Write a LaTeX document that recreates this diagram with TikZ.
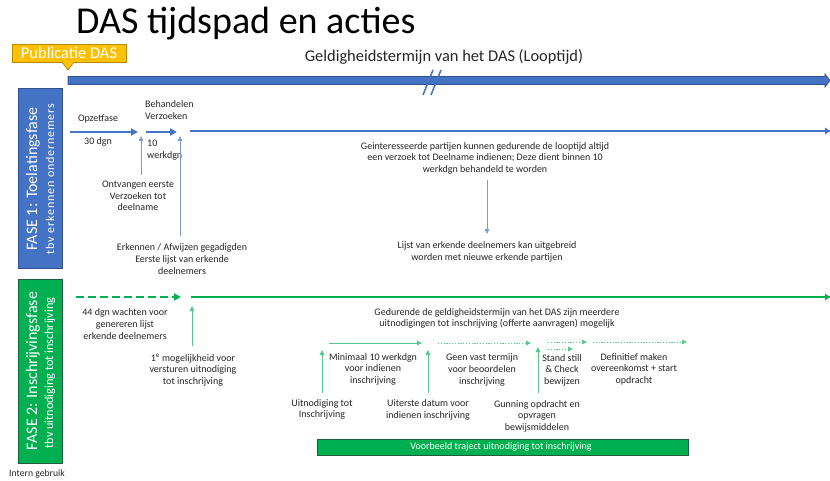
\documentclass[tikz,border=0pt]{standalone}
\usepackage{fontspec}
\setmainfont{Carlito}
\newfontfamily\spacedfont[LetterSpace=7]{Carlito}
\usetikzlibrary{arrows.meta}
\definecolor{dblue}{HTML}{4472C4}
\definecolor{bblue}{HTML}{2F528F}
\definecolor{lblue}{HTML}{7C9BD6}
\definecolor{dgreen}{HTML}{00B050}
\definecolor{bgreen}{HTML}{1E5E3A}
\definecolor{lgreen}{HTML}{55C98A}
\definecolor{gold}{HTML}{FFC000}
\definecolor{goldb}{HTML}{B98B00}
\definecolor{txt}{HTML}{262626}
\tikzset{
  lbl/.style={font=\fontsize{10}{11.6}\selectfont, align=center, inner sep=0pt, text=txt},
  bluemain/.style={draw=dblue, line width=2.4pt, -{Triangle[length=7pt,width=7pt]}},
  bluethin/.style={draw=lblue, line width=0.8pt, -{Triangle[length=5pt,width=4.5pt]}},
  greenthin/.style={draw=lgreen, line width=0.9pt, -{Triangle[length=5pt,width=4.5pt]}},
  greendot/.style={draw=lgreen, line width=0.9pt, dash pattern=on 1.2pt off 1.6pt, -{Triangle[length=5pt,width=4.5pt]}},
  phasebox/.style={line width=1pt},
  phasetitle/.style={rotate=90, text=white, inner sep=0pt, font=\fontsize{16}{17}\selectfont},
}
\begin{document}
\begin{tikzpicture}[x=1pt,y=-1pt]
\useasboundingbox (0,0) rectangle (830,481);
\fill[white] (0,0) rectangle (830,481);

% title
\node[anchor=west, inner sep=0pt, font=\fontsize{38}{40}\selectfont] (title) at (76,24) {DAS tijdspad en acties};

% publicatie callout
\draw[fill=gold, draw=goldb, line width=0.8pt] (12,44) rectangle (126,62);
\draw[fill=gold, draw=goldb, line width=0.8pt] (62,62) -- (68,70) -- (74,62);
\fill[gold] (62.6,61) rectangle (73.4,62.4);
\node[font=\fontsize{16.5}{17}\selectfont, text=white, inner sep=0pt] (pub) at (69,53) {Publicatie DAS};

% geldigheidstermijn
\node[font=\fontsize{16.4}{18}\selectfont, inner sep=0pt, text=txt] (geld) at (444,57) {Geldigheidstermijn van het DAS (Looptijd)};
\draw[fill=dblue, draw=bblue, line width=0.7pt] (68,76.5) -- (825,76.5) -- (825,74) -- (830,80.5) -- (825,87) -- (825,84.5) -- (68,84.5) -- cycle;
\coordinate (s1a) at (423,95); \coordinate (s1b) at (433,70);
\coordinate (s2a) at (431,95); \coordinate (s2b) at (441,70);
\draw[dblue, line width=1.5pt] (s1a) -- (s1b);
\draw[dblue, line width=1.5pt] (s2a) -- (s2b);

% FASE 1 box
\draw[fill=dblue, draw=bblue, phasebox] (18,89) rectangle (62,268);
\node[phasetitle] (f1a) at (33,179) {FASE 1: Toelatingsfase};
\node[rotate=90, text=white, inner sep=0pt, font=\spacedfont\fontsize{12}{13}\selectfont] (f1b) at (50,179) {tbv erkennen ondernemers};

% phase 1 timeline
\coordinate (p1a) at (70,132); \coordinate (p1b) at (138,132);
\coordinate (p1c) at (146,132); \coordinate (p1d) at (177,132);
\coordinate (p1e) at (190,131); \coordinate (p1f) at (830,131);
\draw[bluemain] (p1a) -- (p1b);
\draw[bluemain] (p1c) -- (p1d);
\draw[draw=dblue, line width=2.4pt] (p1e) -- (p1f);
\fill[dblue] (830,131) -- (825,127.5) -- (825,134.5) -- cycle;

\node[lbl] (opzet) at (98,119) {Opzetfase};
\node[lbl] (dgn30) at (98,142) {30 dgn};
\node[lbl, anchor=west, align=left] (behand) at (145,110) {Behandelen\\Verzoeken};
\node[lbl, anchor=west, align=left] (werk10) at (147,150) {10\\werkdgn};

\node[lbl] (ontv) at (138,196) {Ontvangen eerste\\Verzoeken tot\\deelname};
\coordinate (ua1) at (141,175); \coordinate (ua1t) at (141,136);
\draw[bluethin] (ua1) -- (ua1t);

\node[lbl] (erk) at (182,259) {Erkennen / Afwijzen gegadigden\\Eerste lijst van erkende\\deelnemers};
\coordinate (ua2) at (180,236); \coordinate (ua2t) at (180,136);
\draw[bluethin] (ua2) -- (ua2t);

\node[lbl] (gein) at (485,158) {Geinteresseerde partijen kunnen gedurende de looptijd altijd\\een verzoek tot Deelname indienen; Deze dient binnen 10\\werkdgn behandeld te worden};
\node[lbl] (lijst) at (487,252) {Lijst van erkende deelnemers kan uitgebreid\\worden met nieuwe erkende partijen};
\coordinate (da1) at (487,180); \coordinate (da1b) at (487,234);
\draw[bluethin] (da1) -- (da1b);

% FASE 2 box
\draw[fill=dgreen, draw=bgreen, phasebox] (18,279) rectangle (62,463);
\node[phasetitle] (f2a) at (33,371) {FASE 2: Inschrijvingsfase};
\node[rotate=90, text=white, inner sep=0pt, font=\fontsize{12.2}{13}\selectfont] (f2b) at (50,373) {tbv uitnodiging tot inschrijving};

\node[font=\fontsize{9.7}{11}\selectfont, inner sep=0pt, text=txt] (intern) at (37,474) {Intern gebruik};

% phase 2 timeline
\coordinate (p2a) at (76,297); \coordinate (p2b) at (181,297);
\coordinate (p2c) at (191,297); \coordinate (p2d) at (830,297);
\draw[draw=dgreen, line width=2.8pt, dash pattern=on 8pt off 4pt, -{Triangle[length=7pt,width=7pt]}] (p2a) -- (p2b);
\draw[draw=dgreen, line width=2.8pt] (p2c) -- (p2d);
\fill[dgreen] (830,297) -- (825,293.5) -- (825,300.5) -- cycle;

\node[lbl] (wacht) at (125,324) {44 dgn wachten voor\\genereren lijst\\erkende deelnemers};
\node[lbl] (moge) at (193,370) {1\textsuperscript{e} mogelijkheid voor\\versturen uitnodiging\\tot inschrijving};
\coordinate (ua3) at (192,346); \coordinate (ua3t) at (192,306);
\draw[greenthin] (ua3) -- (ua3t);

\node[lbl] (gedur) at (497,318.5) {Gedurende de geldigheidstermijn van het DAS zijn meerdere\\uitnodigingen tot inschrijving (offerte aanvragen) mogelijk};

% example trajectory arrows
\coordinate (t1a) at (329,343); \coordinate (t1b) at (422,343);
\coordinate (t2a) at (438,343); \coordinate (t2b) at (531,343);
\coordinate (t3a) at (548,342); \coordinate (t3b) at (587,342);
\coordinate (t4a) at (548,349); \coordinate (t4b) at (573,349);
\coordinate (t5a) at (593,342); \coordinate (t5b) at (687,342);
\draw[greenthin] (t1a) -- (t1b);
\draw[greendot] (t2a) -- (t2b);
\draw[greendot] (t3a) -- (t3b);
\draw[greendot] (t4a) -- (t4b);
\draw[greendot] (t5a) -- (t5b);

\coordinate (u4) at (322,393); \coordinate (u4t) at (322,350);
\coordinate (u5) at (428,393); \coordinate (u5t) at (428,350);
\coordinate (u6) at (538,393); \coordinate (u6t) at (538,347);
\draw[greenthin] (u4) -- (u4t);
\draw[greenthin] (u5) -- (u5t);
\draw[greenthin] (u6) -- (u6t);

\node[lbl] (mini) at (373,369) {Minimaal 10 werkdgn\\voor indienen\\inschrijving};
\node[lbl] (geen) at (482,370) {Geen vast termijn\\voor beoordelen\\inschrijving};
\node[lbl] (stand) at (562,370) {Stand still\\\& Check\\bewijzen};
\node[lbl] (defi) at (634,369) {Definitief maken\\overeenkomst + start\\opdracht};

\node[lbl] (uitn) at (322,409.5) {Uitnodiging tot\\Inschrijving};
\node[lbl] (uiterst) at (428,410) {Uiterste datum voor\\indienen inschrijving};
\node[lbl] (gunn) at (537,416) {Gunning opdracht en\\opvragen\\bewijsmiddelen};

% example bar
\draw[fill=dgreen, draw=bgreen, line width=0.9pt] (317,439) rectangle (688,455);
\node[lbl, text=white] (voorb) at (501,447) {Voorbeeld traject uitnodiging tot inschrijving};
\end{tikzpicture}
\end{document}
